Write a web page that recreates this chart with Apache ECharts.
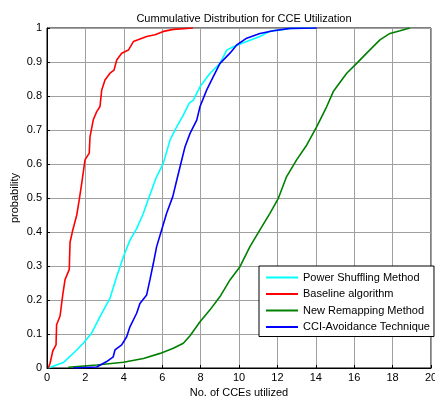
<!DOCTYPE html>
<html>
<head>
<meta charset="utf-8">
<script src="https://cdn.jsdelivr.net/npm/echarts@6/dist/echarts.min.js"></script>
<style>
  html, body { margin: 0; padding: 0; background: #fff; }
  #box01 { width: 435px; height: 399px; }
</style>
</head>
<body>
<div id="box01"></div>
<script>
// 曲线数据 (x = No. of CCEs, y = probability)
var powerShuffling = [
    [0.07,0],[0.85,0.016],[1.55,0.053],[1.89,0.073],[2.33,0.103],[2.76,0.151],[3.28,0.205],
    [3.63,0.269],[3.98,0.327],[4.32,0.376],[4.67,0.41],[5.02,0.455],[5.30,0.5],[5.71,0.563],
    [6.06,0.602],[6.41,0.671],[6.76,0.71],[7.1,0.744],[7.41,0.779],[7.62,0.788],[7.97,0.827],
    [8.49,0.867],[9.01,0.896],[9.36,0.935],[9.7,0.945],[10.4,0.96],[11.09,0.975],[11.6,0.99],
    [12.66,0.999],[13.9,1]
];
var baseline = [
    [0.07,0],[0.16,0.014],[0.30,0.05],[0.47,0.068],[0.50,0.127],[0.68,0.153],[0.82,0.215],
    [0.94,0.26],[1.16,0.29],[1.20,0.37],[1.34,0.405],[1.55,0.45],[1.68,0.495],[1.81,0.544],
    [1.98,0.612],[2.2,0.632],[2.24,0.68],[2.41,0.73],[2.59,0.754],[2.76,0.769],[2.85,0.818],
    [3.02,0.847],[3.28,0.867],[3.49,0.876],[3.63,0.906],[3.89,0.926],[4.24,0.935],[4.5,0.96],
    [5.19,0.975],[5.63,0.98],[6.06,0.99],[6.58,0.996],[7.6,1]
];
var newRemapping = [
    [1.11,0.002],[2.59,0.009],[3.98,0.017],[5.02,0.028],[5.89,0.043],[6.58,0.058],[7.1,0.073],
    [7.45,0.095],[7.97,0.136],[8.49,0.171],[9.01,0.21],[9.53,0.259],[10.05,0.298],[10.57,0.357],
    [11.09,0.406],[11.61,0.455],[12.05,0.499],[12.48,0.563],[13.0,0.612],[13.53,0.656],
    [14.05,0.71],[14.57,0.769],[14.91,0.813],[15.61,0.867],[16.13,0.896],[16.65,0.926],
    [17.34,0.965],[17.86,0.984],[18.39,0.992],[18.9,1]
];
var cciAvoidance = [
    [1.37,0],[2.59,0.003],[3.11,0.019],[3.45,0.033],[3.54,0.053],[3.89,0.068],[4.15,0.092],
    [4.32,0.121],[4.67,0.161],[4.84,0.19],[5.19,0.215],[5.36,0.259],[5.54,0.308],[5.71,0.357],
    [5.97,0.406],[6.23,0.455],[6.55,0.504],[6.76,0.553],[6.93,0.592],[7.19,0.651],[7.45,0.69],
    [7.8,0.729],[7.97,0.769],[8.32,0.818],[8.66,0.857],[9.01,0.896],[9.53,0.926],[9.88,0.95],
    [10.4,0.97],[11.09,0.984],[11.79,0.992],[12.66,0.999],[14.05,1]
];
var seriesNames = ['Power Shuffling Method','Baseline algorithm','New Remapping Method','CCI-Avoidance Technique'];
var seriesColors = ['#00ffff','#ff0000','#008000','#0000ff'];
var seriesData = [powerShuffling, baseline, newRemapping, cciAvoidance];

var font = 'Liberation Sans, Arial, sans-serif';
var myChart = echarts.init(document.getElementById('box01'));

var series = [];
for (var i = 0; i < seriesNames.length; i++) {
    series.push({
        name: seriesNames[i],
        type: 'line',
        data: seriesData[i],
        symbol: 'none',
        color: seriesColors[i],
        lineStyle: {width: 1.6, color: seriesColors[i]},
        animation: false
    });
}

var option = {
    backgroundColor: '#fff',
    title: {
        text: 'Cummulative Distribution for CCE Utilization',
        left: 239, textAlign: 'center', top: 8,
        textStyle: {fontSize: 11, fontWeight: 'normal', color: '#000', fontFamily: font}
    },
    legend: {
        orient: 'vertical',
        left: 259, top: 266,
        data: seriesNames,
        icon: 'rect',
        itemWidth: 32, itemHeight: 2, itemGap: 5.5,
        padding: [6, 4, 4, 7],
        borderColor: '#000', borderWidth: 1,
        backgroundColor: '#fff',
        textStyle: {fontSize: 11, color: '#000', fontFamily: font}
    },
    grid: {
        left: 47, right: 4, top: 28, bottom: 31,
        outerBoundsMode: 'none', containLabel: false,
        show: true, borderColor: '#000', borderWidth: 1
    },
    xAxis: {
        type: 'value', min: 0, max: 20, interval: 2,
        name: 'No. of CCEs utilized', nameLocation: 'middle', nameGap: 17,
        nameTextStyle: {fontSize: 11, color: '#000', fontFamily: font},
        axisLine: {show: true, lineStyle: {color: '#000'}},
        axisTick: {inside: true, length: 3, lineStyle: {color: '#000'}},
        axisLabel: {fontSize: 11, color: '#000', fontFamily: font, margin: 4},
        splitLine: {show: true, lineStyle: {color: '#a0a0a0', width: 1}}
    },
    yAxis: {
        type: 'value', min: 0, max: 1, interval: 0.1,
        name: 'probability', nameLocation: 'middle', nameGap: 27,
        nameMoveOverlap: false,
        nameTextStyle: {fontSize: 11, color: '#000', fontFamily: font},
        axisLine: {show: true, lineStyle: {color: '#000'}},
        axisTick: {inside: true, length: 3, lineStyle: {color: '#000'}},
        axisLabel: {fontSize: 11, color: '#000', fontFamily: font, margin: 5,
            formatter: function (v) { return String(+v.toFixed(1)); }},
        splitLine: {show: true, lineStyle: {color: '#a0a0a0', width: 1}}
    },
    series: series
};
myChart.setOption(option);
</script>
</body>
</html>
